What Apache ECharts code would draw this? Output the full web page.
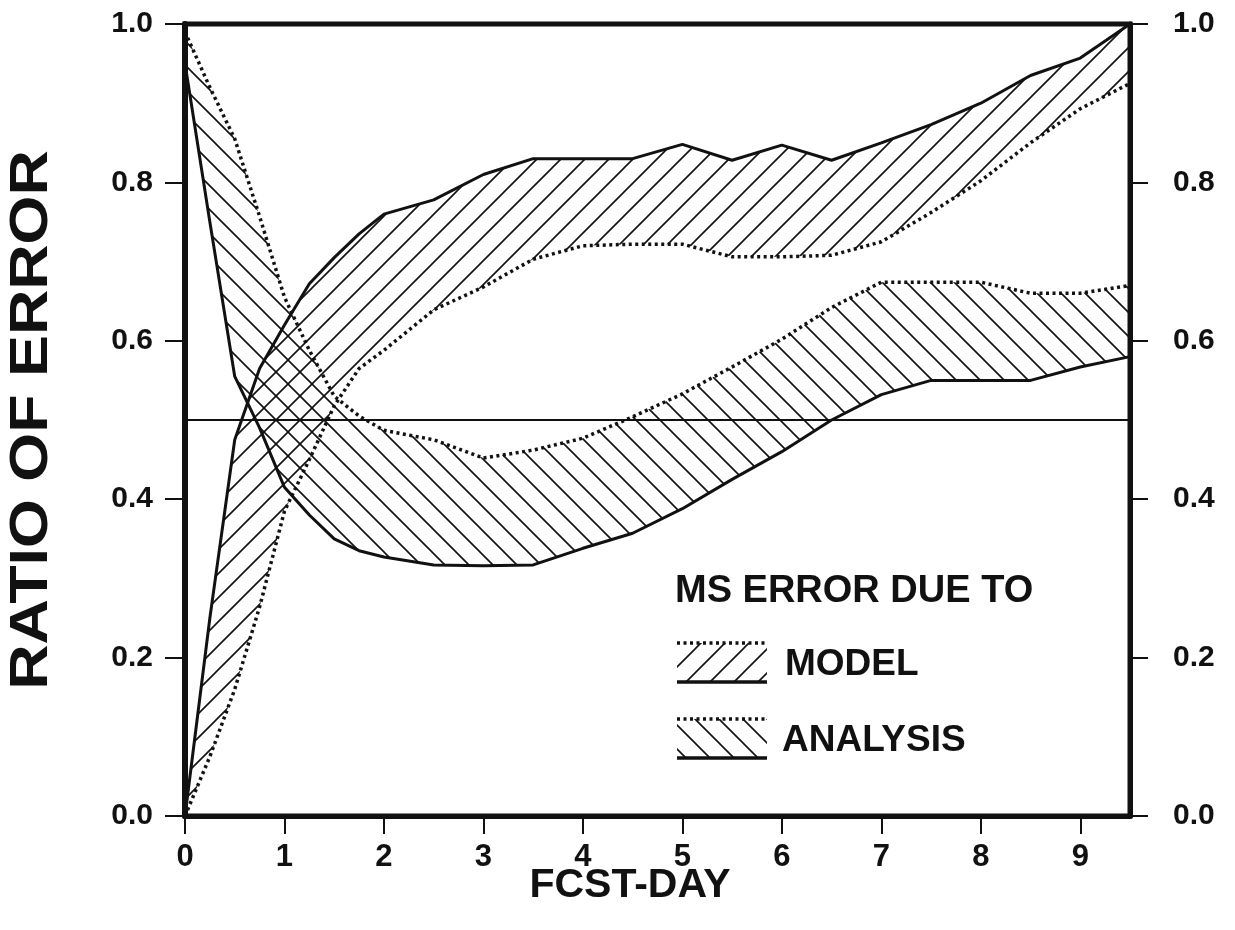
<!DOCTYPE html>
<html><head><meta charset="utf-8">
<script src="https://cdn.jsdelivr.net/npm/echarts@6/dist/echarts.min.js"></script>
<style>html,body{margin:0;padding:0;background:#fff}#c{width:1235px;height:930px}</style>
</head><body><div id="c"></div>
<script>
const days = [0, 0.25, 0.5, 0.75, 1, 1.25, 1.5, 1.75, 2, 2.5, 3, 3.5, 4, 4.5, 5, 5.5, 6, 6.5, 7, 7.5, 8, 8.5, 9, 9.5];
const modelSolid = [0.0, 0.25, 0.475, 0.565, 0.62, 0.672, 0.705, 0.735, 0.76, 0.778, 0.81, 0.83, 0.83, 0.83, 0.848, 0.828, 0.847, 0.828, 0.85, 0.873, 0.90, 0.935, 0.957, 1.0];
const modelDotted = [0.0, 0.075, 0.16, 0.264, 0.385, 0.45, 0.518, 0.565, 0.588, 0.639, 0.668, 0.703, 0.72, 0.722, 0.722, 0.706, 0.706, 0.708, 0.725, 0.762, 0.802, 0.85, 0.893, 0.925];
const analysisSolid = [0.95, 0.75, 0.555, 0.49, 0.415, 0.38, 0.35, 0.335, 0.327, 0.317, 0.316, 0.317, 0.338, 0.357, 0.388, 0.425, 0.46, 0.50, 0.532, 0.55, 0.55, 0.55, 0.567, 0.58];
const analysisDotted = [0.99, 0.92, 0.855, 0.757, 0.655, 0.588, 0.53, 0.505, 0.487, 0.475, 0.452, 0.462, 0.477, 0.504, 0.533, 0.567, 0.602, 0.642, 0.674, 0.674, 0.674, 0.66, 0.66, 0.67];
const xTicks = [0, 1, 2, 3, 4, 5, 6, 7, 8, 9];
const yTicks = [0, 0.2, 0.4, 0.6, 0.8, 1.0];
const refLevel = 0.5;

const INK = '#111';
const FONT = '"Liberation Sans", Arial, Helvetica, sans-serif';

function hatch(dir) {
  const T = 24;
  const c = document.createElement('canvas');
  c.width = T; c.height = T;
  const g = c.getContext('2d');
  g.strokeStyle = INK; g.lineWidth = 1.6;
  g.beginPath();
  if (dir === '/') {
    g.moveTo(-2, T + 2); g.lineTo(T + 2, -2);
    g.moveTo(-2, 2); g.lineTo(2, -2);
    g.moveTo(T - 2, T + 2); g.lineTo(T + 2, T - 2);
  } else {
    g.moveTo(-2, -2); g.lineTo(T + 2, T + 2);
    g.moveTo(T - 2, -2); g.lineTo(T + 2, 2);
    g.moveTo(-2, T - 2); g.lineTo(2, T + 2);
  }
  g.stroke();
  return c;
}
const patModel = { image: hatch('/'), repeat: 'repeat' };
const patAnalysis = { image: hatch('\\'), repeat: 'repeat' };

function pairs(ys) { return days.map((d, i) => [d, ys[i]]); }

function band(upper, lower, pat) {
  return {
    type: 'custom', z: 2, silent: true, clip: true,
    data: [[0, 0]],
    encode: { x: 0, y: 1 },
    renderItem: function (params, api) {
      const up = days.map((d, i) => api.coord([d, upper[i]]));
      const lo = days.map((d, i) => api.coord([d, lower[i]])).reverse();
      return { type: 'polygon', shape: { points: up.concat(lo) }, style: { fill: pat, stroke: null } };
    }
  };
}

function lineSeries(ys, dotted, extra) {
  return Object.assign({
    type: 'line', z: 4, silent: true, symbol: 'none', smooth: false,
    data: pairs(ys),
    lineStyle: dotted ? { color: INK, width: 3.5, type: [3, 3.5], cap: 'butt' } : { color: INK, width: 3 }
  }, extra || {});
}

const chart = echarts.init(document.getElementById('c'), null, { renderer: 'canvas' });
const axisLbl = { fontFamily: FONT, fontWeight: 'bold', color: INK };

chart.setOption({
  animation: false,
  backgroundColor: '#fff',
  grid: { left: 185, right: 105, top: 24, bottom: 114, show: true, borderColor: INK, borderWidth: 5, backgroundColor: 'transparent' },
  xAxis: {
    type: 'value', min: 0, max: 9.5, interval: 1,
    axisLine: { show: true, onZero: false, lineStyle: { color: INK, width: 5 } },
    axisTick: { show: true, length: 18, customValues: xTicks, lineStyle: { color: INK, width: 2 } },
    axisLabel: Object.assign({ fontSize: 31, margin: 26, customValues: xTicks, formatter: v => String(v) }, axisLbl),
    splitLine: { show: false }
  },
  yAxis: [{
    type: 'value', min: 0, max: 1, interval: 0.2, position: 'left',
    axisLine: { show: true, onZero: false, lineStyle: { color: INK, width: 6 } },
    axisTick: { show: true, length: 20, customValues: yTicks, lineStyle: { color: INK, width: 2 } },
    axisLabel: Object.assign({ fontSize: 30, margin: 32, customValues: yTicks, formatter: v => v.toFixed(1) }, axisLbl),
    splitLine: { show: false }
  }, {
    type: 'value', min: 0, max: 1, interval: 0.2, position: 'right',
    axisLine: { show: true, onZero: false, lineStyle: { color: INK, width: 5 } },
    axisTick: { show: true, length: 18, customValues: yTicks, lineStyle: { color: INK, width: 2 } },
    axisLabel: Object.assign({ fontSize: 30, margin: 43, customValues: yTicks, formatter: v => v.toFixed(1) }, axisLbl),
    splitLine: { show: false }
  }],
  series: [
    band(modelSolid, modelDotted, patModel),
    band(analysisDotted, analysisSolid, patAnalysis),
    lineSeries(modelSolid, false, {
      markLine: {
        silent: true, symbol: 'none', label: { show: false },
        lineStyle: { color: INK, width: 1.8, type: 'solid' },
        data: [{ yAxis: refLevel }]
      }
    }),
    lineSeries(modelDotted, true),
    lineSeries(analysisSolid, false),
    lineSeries(analysisDotted, true)
  ],
  graphic: [
    { type: 'text', x: 32.5, y: 420, rotation: Math.PI / 2, scaleX: 1.185, scaleY: 1,
      style: { text: 'RATIO OF ERROR', x: 0, y: 0, align: 'center', verticalAlign: 'middle', font: 'bold 53px ' + FONT, fill: INK } },
    { type: 'text', x: 630, y: 886,
      style: { text: 'FCST-DAY', x: 0, y: 0, align: 'center', verticalAlign: 'middle', font: 'bold 41px ' + FONT, fill: INK } },
    { type: 'text', x: 675, y: 592,
      style: { text: 'MS ERROR DUE TO', align: 'left', verticalAlign: 'middle', font: 'bold 38px ' + FONT, fill: INK } },
    { type: 'rect', shape: { x: 677, y: 643, width: 90, height: 39 }, style: { fill: patModel, stroke: null } },
    { type: 'line', shape: { x1: 677, y1: 643, x2: 767, y2: 643 }, style: { stroke: INK, lineWidth: 3.5, lineDash: [3, 3.5] } },
    { type: 'line', shape: { x1: 677, y1: 682, x2: 767, y2: 682 }, style: { stroke: INK, lineWidth: 3.5 } },
    { type: 'text', x: 785, y: 665,
      style: { text: 'MODEL', align: 'left', verticalAlign: 'middle', font: 'bold 37px ' + FONT, fill: INK } },
    { type: 'rect', shape: { x: 677, y: 719, width: 90, height: 39 }, style: { fill: patAnalysis, stroke: null } },
    { type: 'line', shape: { x1: 677, y1: 719, x2: 767, y2: 719 }, style: { stroke: INK, lineWidth: 3.5, lineDash: [3, 3.5] } },
    { type: 'line', shape: { x1: 677, y1: 758, x2: 767, y2: 758 }, style: { stroke: INK, lineWidth: 3.5 } },
    { type: 'text', x: 782, y: 741,
      style: { text: 'ANALYSIS', align: 'left', verticalAlign: 'middle', font: 'bold 37px ' + FONT, fill: INK } }
  ]
});
</script>
</body></html>
